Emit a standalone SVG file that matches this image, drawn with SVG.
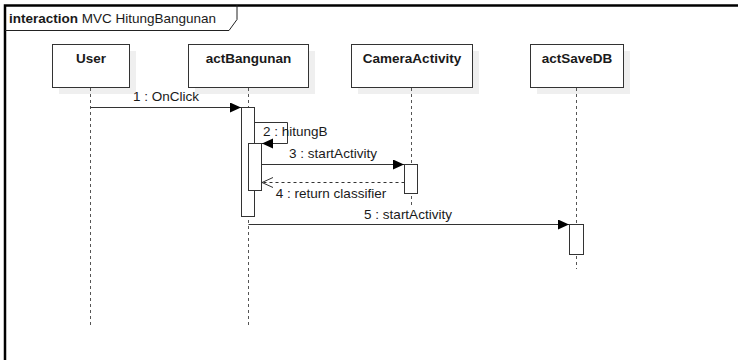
<svg xmlns="http://www.w3.org/2000/svg" width="738" height="360" viewBox="0 0 738 360">
<style>
text{font-family:"Liberation Sans",Arial,sans-serif;font-size:13.5px;fill:#1a1a1a}
.b{font-weight:bold}
.box{fill:#fff;stroke:#333;stroke-width:1}
.sh{fill:#efefef}
.life{stroke:#555;stroke-width:1;stroke-dasharray:3,3;fill:none}
.bar{fill:#fff;stroke:#333;stroke-width:1}
.msg{stroke:#333;stroke-width:1;fill:none}
.ret{stroke:#333;stroke-width:1;fill:none;stroke-dasharray:3,3}
</style>
<defs>
<marker id="fa" markerUnits="userSpaceOnUse" markerWidth="12" markerHeight="12" refX="11" refY="5" orient="auto">
<path d="M0,0 L11,5 L0,10 Z" fill="#000"/>
</marker>
<marker id="oa" markerUnits="userSpaceOnUse" markerWidth="13" markerHeight="12" refX="11" refY="5" orient="auto">
<path d="M0,0 L11,5 L0,10" fill="none" stroke="#333" stroke-width="1"/>
</marker>
</defs>
<rect width="738" height="360" fill="#fff"/>
<g id="frame">
<path d="M5,360 V5.5 H738" fill="none" stroke="#000" stroke-width="2.5"/>
<path d="M5,30.5 H229 L237,19.5 V5" fill="none" stroke="#222" stroke-width="1"/>
<text x="9" y="23"><tspan class="b">interaction</tspan> MVC HitungBangunan</text>
</g>
<g id="User">
<rect class="sh" x="59" y="51" width="77" height="43"/>
<rect class="box" x="52.5" y="44.5" width="77" height="43"/>
<text class="b" x="91" y="63" text-anchor="middle">User</text>
<line class="life" x1="90.5" y1="88" x2="90.5" y2="327"/>
</g>
<g id="actBangunan">
<rect class="sh" x="195" y="51" width="120" height="43"/>
<rect class="box" x="188.5" y="44.5" width="120" height="43"/>
<text class="b" x="248.5" y="63" text-anchor="middle">actBangunan</text>
<line class="life" x1="248.5" y1="88" x2="248.5" y2="327"/>
<rect class="bar" x="241.5" y="107.5" width="13" height="109"/>
<rect class="bar" x="248.5" y="143.5" width="13" height="47"/>
</g>
<g id="CameraActivity">
<rect class="sh" x="358" y="51" width="121" height="43"/>
<rect class="box" x="351.5" y="44.5" width="121" height="43"/>
<text class="b" x="412" y="63" text-anchor="middle">CameraActivity</text>
<line class="life" x1="411.5" y1="88" x2="411.5" y2="207"/>
<rect class="bar" x="404.5" y="164.5" width="13" height="29"/>
</g>
<g id="actSaveDB">
<rect class="sh" x="537" y="51" width="93" height="43"/>
<rect class="box" x="530.5" y="44.5" width="93" height="43"/>
<text class="b" x="577" y="63" text-anchor="middle">actSaveDB</text>
<line class="life" x1="576.5" y1="88" x2="576.5" y2="269"/>
<rect class="bar" x="569.5" y="224.5" width="14" height="30"/>
</g>
<g id="connectors">
<line class="msg" x1="90.5" y1="107.5" x2="241" y2="107.5" marker-end="url(#fa)"/>
<text x="166" y="101" text-anchor="middle">1 : OnClick</text>
<path class="msg" d="M254.5,122.5 H287.5 V143.5 H262" marker-end="url(#fa)"/>
<text x="263" y="136">2 : hitungB</text>
<line class="msg" x1="261.5" y1="164.5" x2="404" y2="164.5" marker-end="url(#fa)"/>
<text x="333" y="158" text-anchor="middle">3 : startActivity</text>
<line class="ret" x1="404.5" y1="182.5" x2="262" y2="182.5" marker-end="url(#oa)"/>
<text x="331" y="198" text-anchor="middle">4 : return classifier</text>
<line class="msg" x1="248.5" y1="224.5" x2="569" y2="224.5" marker-end="url(#fa)"/>
<text x="408" y="219" text-anchor="middle">5 : startActivity</text>
</g>
</svg>
